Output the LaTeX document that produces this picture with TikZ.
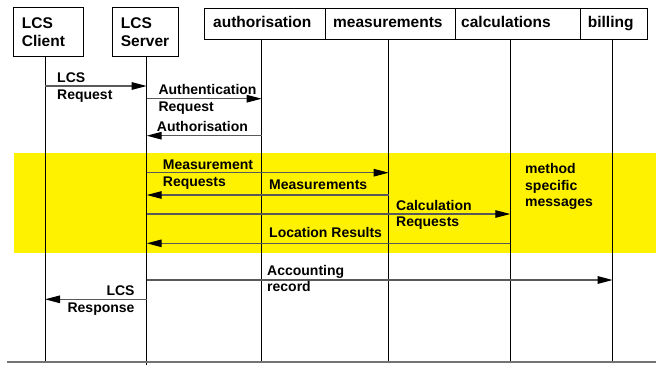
\documentclass[tikz,border=0pt]{standalone}
\usepackage{fontspec}
\setmainfont{Liberation Sans}
\usetikzlibrary{arrows.meta}
\begin{document}
\begin{tikzpicture}[x=1pt,y=-1pt,
  hdr/.style={draw=black, line width=0.8pt, fill=white, inner sep=0, anchor=north west},
  life/.style={draw=black, line width=0.8pt},
  msg/.style={draw=black!65, line width=1.2pt, -{Triangle[length=15pt,width=7.5pt,black]}},
  lbl/.style={font=\fontsize{14}{16.5}\selectfont\bfseries, inner sep=0, anchor=base west, align=left},
  lblr/.style={font=\fontsize{14}{16.5}\selectfont\bfseries, inner sep=0, anchor=base east, align=right},
  htxt/.style={font=\fontsize{15.5}{18.7}\selectfont\bfseries, inner sep=0, anchor=base west, align=left},
  band/.style={fill=yellow, draw=none}]
\useasboundingbox (0,0) rectangle (656,365);
% yellow band
\fill[band] (14,153.3) rectangle (656,252.7);
% header boxes
\node[hdr, minimum width=70.5pt, minimum height=49pt] (client) at (12.8,7) {};
\node[hdr, minimum width=66.6pt, minimum height=49pt] (server) at (111.7,7) {};
\node[hdr, minimum width=121pt, minimum height=30.5pt] (auth) at (204,8) {};
\node[hdr, minimum width=130pt, minimum height=30.5pt] (meas) at (325,8) {};
\node[hdr, minimum width=125pt, minimum height=30.5pt] (calc) at (455,8) {};
\node[hdr, minimum width=66.7pt, minimum height=30.5pt] (bill) at (580,8) {};
% header texts (base = last line)
\node[htxt] (tclient) at (21.7,46.7) {LCS\\Client};
\node[htxt] (tserver) at (120.7,46.7) {LCS\\Server};
\node[htxt] (tauth) at (213,27.5) {authorisation};
\node[htxt] (tmeas) at (333,27.5) {measurements};
\node[htxt] (tcalc) at (461,27.5) {calculations};
\node[htxt] (tbill) at (587.7,27.5) {billing};
% lifeline coordinates
\coordinate (lc) at (45,56);   \coordinate (lcb) at (45,362);
\coordinate (ls) at (146.7,56); \coordinate (lsb) at (146.7,365);
\coordinate (la) at (261.7,38.5); \coordinate (lab) at (261.7,362);
\coordinate (lm) at (388.7,38.5); \coordinate (lmb) at (388.7,362);
\coordinate (lk) at (510.3,38.5); \coordinate (lkb) at (510.3,362);
\coordinate (lb) at (612.7,38.5); \coordinate (lbb) at (612.7,362);
\foreach \a/\b in {lc/lcb, ls/lsb, la/lab, lm/lmb, lk/lkb, lb/lbb}
  \draw[life] (\a) -- (\b);
% bottom line
\coordinate (bl) at (7,362); \coordinate (br) at (656,362);
\draw[draw=black!55, line width=1.5pt] (bl) -- (br);
% message y-levels
\coordinate (y1) at (0,86);
\coordinate (y2) at (0,98.7);
\coordinate (y3) at (0,135.7);
\coordinate (y4) at (0,172.7);
\coordinate (y5) at (0,195);
\coordinate (y6) at (0,214);
\coordinate (y7) at (0,243.3);
\coordinate (y8) at (0,280);
\coordinate (y9) at (0,299.3);
% messages
\draw[msg] (lc |- y1) -- (ls |- y1);
\draw[msg] (ls |- y2) -- (la |- y2);
\draw[msg] (la |- y3) -- (ls |- y3);
\draw[msg] (ls |- y4) -- (lm |- y4);
\draw[msg] (lm |- y5) -- (ls |- y5);
\draw[msg] (ls |- y6) -- (lk |- y6);
\draw[msg] (lk |- y7) -- (ls |- y7);
\draw[msg] (ls |- y8) -- (lb |- y8);
\draw[msg] (ls |- y9) -- (lc |- y9);
% labels (base = last line)
\node[lbl] (m1) at (57,99) {LCS\\Request};
\node[lbl] (m2) at (158.3,111) {Authentication\\Request};
\node[lbl] (m3) at (156.7,131.7) {Authorisation};
\node[lbl] (m4) at (162.7,186) {Measurement\\Requests};
\node[lbl] (m5) at (269,189.7) {Measurements};
\node[lbl] (m6) at (396,226.7) {Calculation\\Requests};
\node[lbl] (m7) at (269,237.7) {Location Results};
\node[lbl] (m8) at (267,291.7) {Accounting\\record};
\node[lblr] (m9) at (134.7,312) {LCS\\Response};
\node[lbl] (ms) at (525,206.7) {method\\specific\\messages};
\end{tikzpicture}
\end{document}
